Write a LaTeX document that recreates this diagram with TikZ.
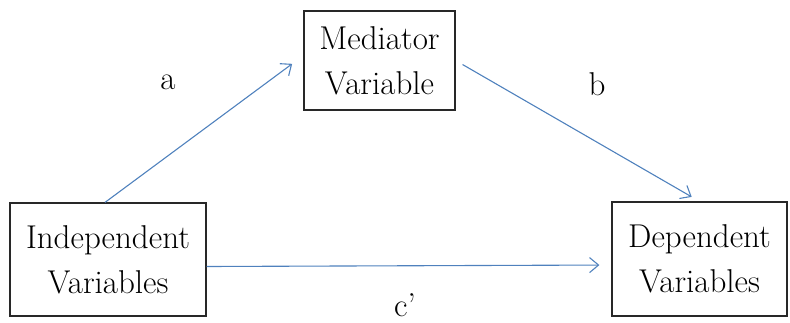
\documentclass[tikz,border=0pt]{standalone}
\usepackage{fontspec}
\usepackage{tikz}
\usetikzlibrary{
	arrows.meta,
	positioning
}
\definecolor{LineBlue}{RGB}{79,129,189}
\definecolor{BoxGray}{RGB}{40,40,40}

\tikzset{
	varbox/.style={draw=BoxGray,line width=1.2pt,align=center,inner sep=0pt},
	path/.style={LineBlue,line width=1.1pt,-{Straight Barb[length=9pt,width=15pt,line width=1.1pt]}},
	coef/.style={inner sep=0pt}
}

\begin{document}
\begin{tikzpicture}[x=1pt,y=-1pt,font=\fontsize{33}{45}\selectfont]
		\useasboundingbox (0,0) rectangle (790,322);
		
		% 三个变量框
		\node[varbox,minimum width=151pt,minimum height=99pt] (med) at (379.5,60.5) {Mediator\\Variable};
		\node[varbox,minimum width=196pt,minimum height=113pt] (indep) at (108,259.5) {Independent\\Variables};
		\node[varbox,minimum width=175pt,minimum height=114pt] (dep) at (699.5,259) {Dependent\\Variables};
		
		% 路径 a, b, c'
		\draw[path,shorten >=14pt] ([xshift=-3pt]indep.north) -- ([yshift=5pt]med.west);
		\draw[path,shorten <=8pt,shorten >=9pt] (med.east) -- (dep.north);
		\draw[path,shorten >=12pt] ([yshift=-7pt]indep.east) -- ([yshift=-6pt]dep.west);
		
		% 系数标签
		\node[coef] (la) at (168,82) {a};
		\node[coef] (lb) at (597,84) {b};
		\node[coef,anchor=base] (lc) at (405,316) {c'};
	\end{tikzpicture}
\end{document}
